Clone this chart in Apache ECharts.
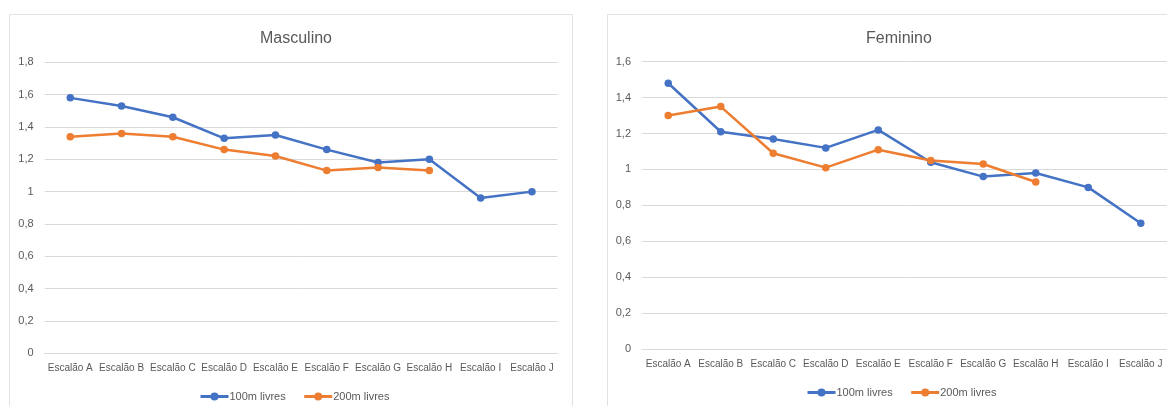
<!DOCTYPE html>
<html>
<head>
<meta charset="utf-8">
<script src="https://cdn.jsdelivr.net/npm/echarts@6/dist/echarts.min.js"></script>
<style>
  html, body { margin: 0; padding: 0; background: #fff; }
  #chart { width: 1167px; height: 406px; }
</style>
</head>
<body>
<div id="chart"></div>
<script>
// Categorias (escalões) e tempos médios por prova
const categories = ['Escalão A', 'Escalão B', 'Escalão C', 'Escalão D', 'Escalão E',
                    'Escalão F', 'Escalão G', 'Escalão H', 'Escalão I', 'Escalão J'];
const seriesNames = ['100m livres', '200m livres'];

const masc100 = [1.58, 1.53, 1.46, 1.33, 1.35, 1.26, 1.18, 1.20, 0.96, 1.00];
const masc200 = [1.34, 1.36, 1.34, 1.26, 1.22, 1.13, 1.15, 1.13, null, null];

const fem100 = [1.48, 1.21, 1.17, 1.12, 1.22, 1.04, 0.96, 0.98, 0.90, 0.70];
const fem200 = [1.30, 1.35, 1.09, 1.01, 1.11, 1.05, 1.03, 0.93, null, null];

const titles = ['Masculino', 'Feminino'];

const BLUE = '#4472C4';
const ORANGE = '#ED7D31';
const TEXT = '#595959';
const GRID = '#D9D9D9';
const FONT = '"Liberation Sans", Arial, sans-serif';

const fmt = v => String(+v.toFixed(1)).replace('.', ',');

function yAxis(gridIndex, max) {
  return {
    type: 'value', gridIndex, min: 0, max, interval: 0.2,
    axisLine: { show: false }, axisTick: { show: false },
    splitLine: { lineStyle: { color: GRID, width: 1 } },
    axisLabel: { color: TEXT, fontSize: 11, fontFamily: FONT, margin: 11, formatter: fmt }
  };
}
function xAxis(gridIndex) {
  return {
    type: 'category', gridIndex, data: categories, boundaryGap: true,
    axisLine: { lineStyle: { color: GRID } }, axisTick: { show: false },
    axisLabel: { color: TEXT, fontSize: 10, fontFamily: FONT, margin: 10, interval: 0 }
  };
}
function line(name, data, color, idx) {
  return {
    name, type: 'line', data, xAxisIndex: idx, yAxisIndex: idx,
    symbol: 'circle', symbolSize: 7.5, connectNulls: false,
    lineStyle: { color, width: 2.5 }, itemStyle: { color },
    emphasis: { disabled: true }
  };
}
function legend(left, top) {
  return {
    data: seriesNames, left, top, itemWidth: 28, itemHeight: 10, itemGap: 17,
    lineStyle: { width: 3 },
    textStyle: { color: TEXT, fontSize: 11, fontFamily: FONT, padding: [0, 0, 0, -4] }
  };
}

const chart = echarts.init(document.getElementById('chart'), null, { renderer: 'canvas' });
chart.setOption({
  backgroundColor: '#fff',
  animation: false,
  graphic: [
    { type: 'rect', shape: { x: 9.5, y: 14.5, width: 563, height: 420 },
      style: { fill: 'none', stroke: '#E2E2E2', lineWidth: 1 }, silent: true },
    { type: 'rect', shape: { x: 607.5, y: 14.5, width: 600, height: 420 },
      style: { fill: 'none', stroke: '#E2E2E2', lineWidth: 1 }, silent: true }
  ],
  title: [
    { text: titles[0], left: 291, top: 26, textAlign: 'center',
      textStyle: { color: TEXT, fontSize: 16, fontWeight: 'normal', fontFamily: FONT } },
    { text: titles[1], left: 894, top: 26, textAlign: 'center',
      textStyle: { color: TEXT, fontSize: 16, fontWeight: 'normal', fontFamily: FONT } }
  ],
  legend: [legend(194, 386), legend(801, 382)],
  grid: [
    { left: 44.6, width: 513, top: 62.3, height: 291 },
    { left: 642, width: 526, top: 61.7, height: 287.3 }
  ],
  xAxis: [xAxis(0), xAxis(1)],
  yAxis: [yAxis(0, 1.8), yAxis(1, 1.6)],
  series: [
    line(seriesNames[0], masc100, BLUE, 0),
    line(seriesNames[1], masc200, ORANGE, 0),
    line(seriesNames[0], fem100, BLUE, 1),
    line(seriesNames[1], fem200, ORANGE, 1)
  ]
});
</script>
</body>
</html>
